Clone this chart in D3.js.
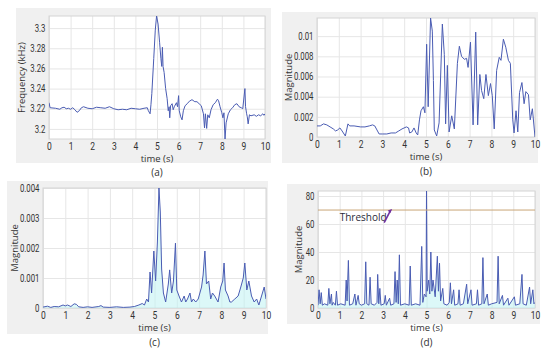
<!DOCTYPE html>
<html>
<head>
<meta charset="utf-8">
<script src="https://d3js.org/d3.v7.min.js"></script>
<style>
  body { margin: 0; background: #fff; }
  svg text { font-family: "Open Sans", sans-serif; fill: #333; }
  .tick text { font-size: 10px; font-family: Roboto, sans-serif; }
  .grid line { stroke: #e6e6e6; }
  .grid .domain { display: none; }
  .axis .domain { display: none; }
  .axis line { display: none; }
</style>
</head>
<body>
<svg id="chart" width="550" height="353"></svg>
<script>
// (a) frequency track
var aTime = [0, 0.05, 0.3, 0.5, 0.6, 0.7, 0.8, 0.9, 1.0, 1.1, 1.2, 1.3, 1.4, 1.5, 1.6, 1.8, 2.0, 2.2, 2.4, 2.6, 2.8, 3.0, 3.2, 3.4, 3.6, 3.8, 4.0, 4.2, 4.4, 4.55, 4.6, 4.68, 4.72, 4.76, 4.85, 4.92, 4.98, 5.05, 5.12, 5.18, 5.22, 5.25, 5.28, 5.33, 5.4, 5.47, 5.52, 5.56, 5.59, 5.63, 5.7, 5.75, 5.8, 5.9, 5.95, 6.0, 6.03, 6.1, 6.16, 6.22, 6.3, 6.4, 6.5, 6.62, 6.75, 6.85, 6.95, 7.05, 7.15, 7.2, 7.24, 7.3, 7.35, 7.42, 7.5, 7.6, 7.7, 7.8, 7.85, 7.92, 8.0, 8.05, 8.1, 8.15, 8.2, 8.3, 8.4, 8.5, 8.6, 8.7, 8.8, 8.9, 8.97, 9.07, 9.1, 9.15, 9.18, 9.22, 9.28, 9.35, 9.5, 9.6, 9.7, 9.8, 9.9, 9.95, 10.0];
var aFreq = [3.226, 3.221, 3.2205, 3.2195, 3.221, 3.2215, 3.220, 3.2205, 3.2195, 3.221, 3.219, 3.2165, 3.218, 3.221, 3.222, 3.2205, 3.220, 3.2215, 3.221, 3.2205, 3.222, 3.220, 3.219, 3.2195, 3.219, 3.2205, 3.220, 3.2195, 3.2205, 3.221, 3.218, 3.215, 3.224, 3.235, 3.27, 3.298, 3.312, 3.304, 3.286, 3.27, 3.262, 3.281, 3.262, 3.256, 3.24, 3.23, 3.218, 3.222, 3.211, 3.223, 3.225, 3.219, 3.222, 3.226, 3.222, 3.233, 3.218, 3.212, 3.209, 3.218, 3.223, 3.225, 3.2275, 3.229, 3.227, 3.227, 3.225, 3.223, 3.215, 3.201, 3.215, 3.2005, 3.214, 3.211, 3.219, 3.224, 3.226, 3.2295, 3.228, 3.222, 3.216, 3.211, 3.216, 3.19, 3.206, 3.215, 3.219, 3.221, 3.224, 3.225, 3.222, 3.221, 3.22, 3.24, 3.222, 3.215, 3.212, 3.205, 3.214, 3.213, 3.214, 3.2125, 3.214, 3.213, 3.215, 3.2135, 3.215];
var aTicks = [3.2, 3.22, 3.24, 3.26, 3.28, 3.3];

// (b) magnitude
var bTime = [0, 0.15, 0.3, 0.45, 0.6, 0.75, 0.85, 0.95, 1.05, 1.15, 1.3, 1.42, 1.5, 1.7, 2.0, 2.2, 2.4, 2.55, 2.65, 2.75, 2.85, 3.0, 3.2, 3.4, 3.6, 3.75, 3.9, 4.1, 4.2, 4.25, 4.35, 4.45, 4.55, 4.62, 4.7, 4.77, 4.88, 4.95, 5.03, 5.1, 5.21, 5.29, 5.34, 5.38, 5.49, 5.6, 5.75, 5.84, 5.9, 5.98, 6.06, 6.18, 6.3, 6.44, 6.53, 6.63, 6.76, 6.86, 6.93, 7.04, 7.16, 7.28, 7.37, 7.47, 7.55, 7.65, 7.75, 7.86, 7.96, 8.04, 8.13, 8.24, 8.36, 8.44, 8.55, 8.66, 8.78, 8.87, 8.98, 9.04, 9.13, 9.21, 9.29, 9.4, 9.5, 9.58, 9.7, 9.78, 9.88, 10.0];
var bMag = [0.0011, 0.0011, 0.0013, 0.0012, 0.001, 0.0008, 0.0006, 0.0007, 0.0009, 0.0006, 0.0001, 0.0013, 0.0011, 0.0011, 0.001, 0.001, 0.0011, 0.0012, 0.0011, 0.0007, 0.0003, 0.0003, 0.0003, 0.0004, 0.0004, 0.0006, 0.0008, 0.001, 0.0009, 0.0004, 0.0005, 0.0009, 0.0004, 0.0002, 0.0017, 0.0026, 0.003, 0.0024, 0.0092, 0.003, 0.0118, 0.0105, 0.0056, 0.0007, 0.0001, 0.0014, 0.0112, 0.0082, 0.0013, 0.0071, 0.0005, 0.0021, 0.0008, 0.0073, 0.009, 0.008, 0.0077, 0.0078, 0.0069, 0.0094, 0.0012, 0.0104, 0.0012, 0.0062, 0.0046, 0.0038, 0.0062, 0.0041, 0.0053, 0.0041, 0.0008, 0.0066, 0.0079, 0.0076, 0.0097, 0.0089, 0.0076, 0.0073, 0.0017, 0.0004, 0.0026, 0.0005, 0.0044, 0.0054, 0.0033, 0.0045, 0.0042, 0.0017, 0.0028, 0.0];
var bTicks = [0, 0.002, 0.004, 0.006, 0.008, 0.01];

// (c) magnitude
var cTime = [0, 0.2, 0.35, 0.5, 0.7, 0.9, 1.0, 1.1, 1.25, 1.4, 1.5, 1.6, 1.8, 2.0, 2.2, 2.5, 2.6, 2.7, 3.0, 3.3, 3.6, 3.9, 4.1, 4.3, 4.45, 4.55, 4.65, 4.73, 4.8, 4.87, 4.97, 5.05, 5.13, 5.2, 5.26, 5.32, 5.4, 5.5, 5.62, 5.68, 5.77, 5.85, 5.94, 6.0, 6.1, 6.21, 6.33, 6.4, 6.48, 6.59, 6.66, 6.74, 6.85, 6.96, 7.11, 7.18, 7.26, 7.33, 7.43, 7.52, 7.6, 7.7, 7.85, 7.97, 8.06, 8.12, 8.18, 8.3, 8.38, 8.45, 8.6, 8.75, 8.87, 8.98, 9.05, 9.14, 9.23, 9.35, 9.47, 9.58, 9.68, 9.8, 9.92, 10.0];
var cMag = [0.00003, 0.00006, 0.00002, 0.00005, 0.00004, 0.0001, 0.00007, 0.0001, 0.00005, 0.00014, 0.00012, 0.00004, 0.00002, 0.00004, 0.00002, 0.00005, 0.00008, 0.00003, 0.00002, 0.00004, 0.00002, 0.00003, 0.00005, 0.0001, 0.00015, 0.0001, 0.0003, 0.0002, 0.0012, 0.0005, 0.0019, 0.0009, 0.0022, 0.004, 0.0032, 0.0013, 0.0005, 0.0002, 0.0008, 0.00127, 0.0005, 0.0009, 0.00216, 0.0006, 0.0004, 0.0002, 0.0004, 0.0002, 0.0003, 0.0005, 0.0002, 0.0003, 0.0002, 0.0003, 0.0007, 0.0011, 0.0019, 0.0008, 0.0009, 0.0003, 0.0005, 0.0004, 0.0002, 0.0007, 0.0009, 0.0015, 0.0006, 0.0004, 0.0002, 0.0002, 0.0003, 0.0004, 0.0007, 0.001, 0.0015, 0.0006, 0.0009, 0.0004, 0.0002, 0.0003, 0.0001, 0.0004, 0.0007, 0.0003];
var cTicks = [0, 0.001, 0.002, 0.003, 0.004];

// (d) magnitude with threshold
var dTime = [0, 0.05, 0.1, 0.15, 0.2, 0.3, 0.45, 0.5, 0.55, 0.62, 0.65, 0.7, 0.8, 0.85, 0.9, 1.05, 1.25, 1.3, 1.34, 1.4, 1.45, 1.6, 1.7, 1.75, 1.85, 1.9, 2.0, 2.15, 2.2, 2.25, 2.35, 2.4, 2.45, 2.6, 2.72, 2.75, 2.8, 2.85, 2.9, 3.05, 3.1, 3.15, 3.3, 3.35, 3.5, 3.55, 3.6, 3.65, 3.7, 3.75, 3.8, 4.0, 4.2, 4.25, 4.3, 4.5, 4.7, 4.78, 4.83, 4.9, 4.98, 5.0, 5.03, 5.1, 5.15, 5.2, 5.25, 5.3, 5.4, 5.5, 5.55, 5.6, 5.65, 5.75, 5.8, 5.95, 6.05, 6.1, 6.15, 6.25, 6.3, 6.45, 6.5, 6.55, 6.7, 6.85, 6.9, 7.05, 7.1, 7.3, 7.35, 7.4, 7.55, 7.6, 7.65, 7.8, 7.85, 8.0, 8.25, 8.3, 8.35, 8.5, 8.55, 8.75, 8.8, 9.05, 9.1, 9.3, 9.4, 9.45, 9.6, 9.75, 9.8, 9.9, 9.95, 10.0];
var dMag = [2, 13, 3, 11, 2, 3, 2, 14, 3, 10, 2, 4, 2, 12, 2, 3, 2, 20, 5, 34, 2, 3, 10, 2, 9, 3, 2, 3, 33, 3, 2, 22, 3, 2, 4, 24, 3, 14, 2, 3, 9, 2, 7, 2, 3, 26, 4, 20, 3, 38, 2, 3, 2, 30, 2, 3, 2, 44, 4, 10, 8, 84, 12, 20, 10, 40, 12, 20, 8, 37, 12, 32, 5, 14, 3, 2, 4, 18, 3, 13, 2, 3, 13, 2, 3, 17, 3, 13, 2, 3, 13, 2, 3, 36, 3, 10, 2, 3, 4, 37, 3, 9, 2, 7, 2, 8, 2, 3, 24, 3, 2, 15, 3, 13, 3, 4];
var dTicks = [0, 20, 40, 60, 80];
var threshold = 70;

var xTicks = [0, 1, 2, 3, 4, 5, 6, 7, 8, 9, 10];

var svg = d3.select("#chart");
var lineColor = "#4a5cb3";

function fmt(d) { return String(+d.toFixed(3)); }

function panel(o) {
	var g = svg.append("g");
	// grey frame
	g.append("rect").attr("x", o.bg[0]).attr("y", o.bg[1])
		.attr("width", o.bg[2] - o.bg[0]).attr("height", o.bg[3] - o.bg[1])
		.attr("fill", "#f0f0f0");
	g.append("rect").attr("x", o.left).attr("y", o.top)
		.attr("width", o.right - o.left).attr("height", o.bottom - o.top)
		.attr("fill", "#fff");

	var x = d3.scaleLinear().domain([0, 10]).range([o.left, o.right]);
	var y = d3.scaleLinear().domain(o.yDomain).range([o.bottom, o.top]);

	// grid
	g.append("g").attr("class", "grid")
		.attr("transform", "translate(0," + o.bottom + ")")
		.call(d3.axisBottom(x).tickValues(xTicks).tickSize(-(o.bottom - o.top)).tickFormat(""));
	g.append("g").attr("class", "grid")
		.attr("transform", "translate(" + o.left + ",0)")
		.call(d3.axisLeft(y).tickValues(o.yTicks).tickSize(-(o.right - o.left)).tickFormat(""));
	g.append("rect").attr("x", o.left).attr("y", o.top)
		.attr("width", o.right - o.left).attr("height", o.bottom - o.top)
		.attr("fill", "none").attr("stroke", "#d4d4d4");

	var pts = o.t.map(function(t, i) { return [t, o.v[i]]; });
	var clipId = "clip" + o.name;
	g.append("clipPath").attr("id", clipId).append("rect")
		.attr("x", o.left).attr("y", o.top)
		.attr("width", o.right - o.left).attr("height", o.bottom - o.top);

	if (o.area) {
		g.append("path").datum(pts)
			.attr("clip-path", "url(#" + clipId + ")")
			.attr("fill", "#bff3f3").attr("opacity", 0.55)
			.attr("d", d3.area().x(function(d) { return x(d[0]); })
				.y0(o.bottom).y1(function(d) { return y(d[1]); }));
	}
	g.append("path").datum(pts)
		.attr("clip-path", "url(#" + clipId + ")")
		.attr("fill", "none").attr("stroke", lineColor).attr("stroke-width", 1)
		.attr("d", d3.line().x(function(d) { return x(d[0]); }).y(function(d) { return y(d[1]); }));

	if (o.threshold != null) {
		g.append("line").attr("x1", o.left).attr("x2", o.right)
			.attr("y1", y(o.threshold)).attr("y2", y(o.threshold))
			.attr("stroke", "#c9a676").attr("stroke-width", 1);
		g.append("text").attr("x", x(1.0)).attr("y", y(62.5))
			.style("font-size", "10px").style("fill", "#2a2a3a").text("Threshold");
		g.append("line").attr("x1", x(3.05)).attr("y1", y(61))
			.attr("x2", x(3.35)).attr("y2", y(70))
			.attr("stroke", "#7030a0").attr("stroke-width", 1.6);
		g.append("path")
			.attr("d", "M" + x(3.42) + "," + (y(70) - 1) + "l-4.5,1.5l2.5,2.8z")
			.attr("fill", "#7030a0");
	}

	// axes (labels squeezed horizontally like the narrow font of the original)
	g.append("g").attr("class", "axis")
		.attr("transform", "translate(0," + (o.bottom + 1) + ")")
		.call(d3.axisBottom(x).tickValues(xTicks).tickSize(0).tickPadding(3).tickFormat(d3.format("d")))
		.selectAll("text").attr("transform", "scale(0.85,1)");
	g.append("g").attr("class", "axis")
		.attr("transform", "translate(" + (o.left - 2) + ",0)")
		.call(d3.axisLeft(y).tickValues(o.yTicks).tickSize(0).tickPadding(2).tickFormat(fmt))
		.selectAll("text").attr("transform", "scale(0.78,1)");
	g.selectAll(".axis text").style("fill", "#333");

	g.append("text").attr("x", (o.left + o.right) / 2).attr("y", o.bottom + 23)
		.attr("text-anchor", "middle").style("font-size", "9.5px").text("time (s)");
	g.append("text")
		.attr("transform", "translate(" + o.ylabX + "," + ((o.top + o.bottom) / 2) + ") rotate(-90)")
		.attr("text-anchor", "middle").style("font-size", "9.5px").text(o.ylab);
	g.append("text").attr("x", (o.left + o.right) / 2).attr("y", o.capY)
		.attr("text-anchor", "middle").style("font-size", "10px").text(o.caption);
}

panel({ name: "a", bg: [16, 8, 271, 163], left: 49, right: 265, top: 16, bottom: 139,
	yDomain: [3.19, 3.312], yTicks: aTicks, t: aTime, v: aFreq,
	ylab: "Frequency (kHz)", ylabX: 25, caption: "(a)", capY: 176 });
panel({ name: "b", bg: [282, 12, 538, 163], left: 317, right: 535, top: 18, bottom: 137,
	yDomain: [0, 0.0118], yTicks: bTicks, t: bTime, v: bMag,
	ylab: "Magnitude", ylabX: 292, caption: "(b)", capY: 175 });
panel({ name: "c", bg: [7, 181, 268, 334], left: 43, right: 266, top: 188, bottom: 308,
	yDomain: [0, 0.004], yTicks: cTicks, t: cTime, v: cMag, area: true,
	ylab: "Magnitude", ylabX: 18, caption: "(c)", capY: 346 });
panel({ name: "d", bg: [287, 184, 540, 324], left: 318, right: 535, top: 191, bottom: 308,
	yDomain: [0, 83.6], yTicks: dTicks, t: dTime, v: dMag, area: true, threshold: threshold,
	ylab: "Magnitude", ylabX: 302, caption: "(d)", capY: 346 });
</script>
</body>
</html>
